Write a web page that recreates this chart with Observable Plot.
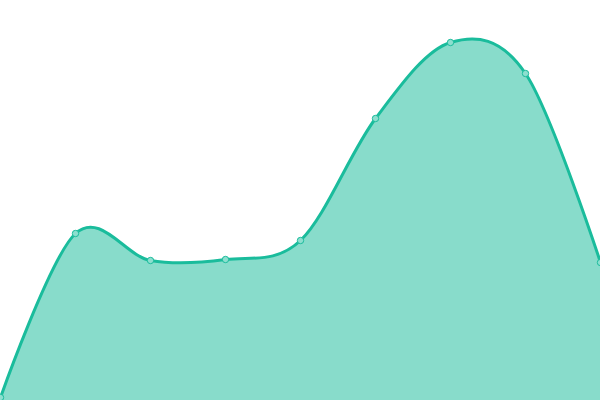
<!DOCTYPE html>
<html>
<head>
<meta charset="utf-8">
<script src="https://cdn.jsdelivr.net/npm/d3@7"></script>
<script src="https://cdn.jsdelivr.net/npm/@observablehq/plot@0.6"></script>
<style>
  html, body { margin: 0; padding: 0; background: #fff; }
  #chart svg { display: block; }
</style>
</head>
<body>
<div id="chart"></div>
<script>
const categories = [0, 1, 2, 3, 4, 5, 6, 7, 8];
const values = [3, 167, 140, 141, 160, 282, 358, 327, 138];

const data = categories.map((c, i) => ({x: c, y: values[i]}));

const chart = Plot.plot({
  width: 600,
  height: 400,
  margin: 0,
  x: {domain: [0, 8], axis: null},
  y: {domain: [0, 400], axis: null},
  marks: [
    Plot.areaY(data, {x: "x", y: "y", curve: "cardinal", tension: 0, fill: "#1abc9c", fillOpacity: 0.52}),
    Plot.lineY(data, {x: "x", y: "y", curve: "cardinal", tension: 0, stroke: "#1abc9c", strokeWidth: 3}),
    Plot.dot(data, {x: "x", y: "y", r: 3.2, fill: "#8ddfcf", stroke: "#1abc9c", strokeWidth: 1})
  ]
});
document.getElementById("chart").appendChild(chart);
</script>
</body>
</html>
